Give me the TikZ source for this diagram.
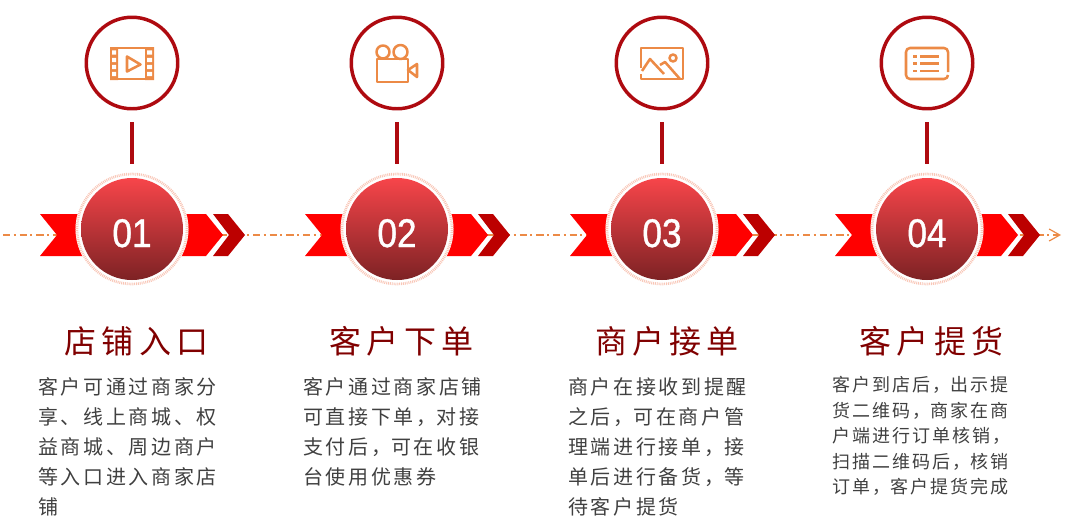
\documentclass[tikz,border=0pt]{standalone}
\usepackage{fontspec}
\usetikzlibrary{arrows.meta}
\newfontfamily\bodyfont{Noto Sans CJK SC}
\newfontfamily\numfont[FakeStretch=0.88,FakeBold=0.9]{Liberation Sans}
% even gap between CJK characters
\newlength{\cjkgap}
\newcount\cjkcode
\newXeTeXintercharclass\cjkclass
\XeTeXinterchartokenstate=1
\cjkcode="4E00
\loop\ifnum\cjkcode<"A000
  \XeTeXcharclass\cjkcode=\cjkclass
  \advance\cjkcode by 1
\repeat
\XeTeXcharclass"3001=\cjkclass
\XeTeXcharclass"FF0C=\cjkclass
\XeTeXinterchartoks\cjkclass\cjkclass={\hskip\cjkgap}
\newcommand{\cm}{^^^^ff0c}
\definecolor{ribbonred}{HTML}{FF0000}
\definecolor{chevrondark}{HTML}{BC0000}
\definecolor{stemred}{HTML}{AE0A10}
\definecolor{iconorange}{HTML}{EC8A46}
\definecolor{titlered}{HTML}{800000}
\definecolor{bodygray}{HTML}{404040}
\definecolor{badgetop}{HTML}{F7454A}
\definecolor{badgebot}{HTML}{7D2224}
\definecolor{haloPink}{HTML}{F9C6B6}
\tikzset{
    ringicon/.style={circle,draw=stemred,line width=2.6pt,minimum size=91.5*0.75pt,inner sep=0pt},
    badge/.style={circle,minimum size=102*0.75pt,inner sep=0pt,top color=badgetop,bottom color=badgebot,text=white,font=\numfont\fontsize{30}{30}\selectfont},
    halo/.style={circle,draw=haloPink,dash pattern=on 0.7pt off 0.7pt,line width=2pt,minimum size=110*0.75pt,inner sep=0pt},
    stem/.style={draw=stemred,line width=3pt},
    glyph/.style={draw=iconorange,line width=1.9pt,line join=round},
    steptitle/.style={text=titlered,font=\setlength{\cjkgap}{3.9pt}\bodyfont\fontsize{24}{24}\selectfont},
    stepbody/.style={text=bodygray,align=left,anchor=north west,inner sep=0pt,font=\setlength{\cjkgap}{2pt}\bodyfont\fontsize{15}{22.5}\selectfont},
    stepsmall/.style={stepbody,font=\setlength{\cjkgap}{1.5pt}\bodyfont\fontsize{13.5}{19.2}\selectfont},
}
\begin{document}
\begin{tikzpicture}[x=0.75pt,y=-0.75pt]
    \useasboundingbox (0,0) rectangle (1080,529);

    % axis
    \coordinate (axisstart) at (3,235);
    \coordinate (axisend) at (1061,235);
    \draw[draw=iconorange,line width=0.9pt,dash pattern=on 5.5pt off 2.5pt on 1.5pt off 3pt,-{Straight Barb[length=8pt,width=9pt]}] (axisstart) -- (axisend);

    % steps
    \foreach \n/\cx in {1/132,2/397,3/662,4/927}{
        % ribbon
        \fill[ribbonred] (\cx-92,214) -- (\cx-30,214) -- (\cx-30,256) -- (\cx-92,256) -- (\cx-75,235) -- cycle;
        \fill[ribbonred] (\cx+30,214) -- (\cx+74,214) -- (\cx+91,235) -- (\cx+74,256) -- (\cx+30,256) -- cycle;
        \fill[chevrondark] (\cx+81,214) -- (\cx+96,214) -- (\cx+113,235) -- (\cx+96,256) -- (\cx+81,256) -- (\cx+97,235) -- cycle;
        % badge and top ring
        \fill[white] (\cx,229) circle (56.5);
        \node[halo] (halo\n) at (\cx,229) {};
        \node[badge] (badge\n) at (\cx,229) {\raisebox{-3pt}[21pt][0pt]{0\n}};
        \node[ringicon] (ring\n) at (\cx,63) {};
        \coordinate (stemtop\n) at (\cx,122);
        \coordinate (stembot\n) at (\cx,164);
        \draw[stem] (stemtop\n) -- (stembot\n);
    }

    % film
    \begin{scope}[shift={(132,63)}]
        \fill[iconorange] (-22,-16) rectangle (-14,17) (13,-16) rectangle (22,17);
        \draw[glyph] (-21,-15) rectangle (21,16);
        \foreach \yy in {-10.5,-3,4,11}{
            \fill[white] (-20,\yy-2.2) rectangle (-16,\yy+2.2) (15,\yy-2.2) rectangle (20,\yy+2.2);
        }
        \draw[glyph] (-5,-6.5) -- (8.5,1.5) -- (-5,8.5) -- cycle;
    \end{scope}

    % camera
    \begin{scope}[shift={(397,63)}]
        \draw[glyph] (-20,-4) -- (-20,19) -- (11,19) -- (11,-4) -- cycle;
        \draw[glyph] (-14,-11) circle (6.5);
        \draw[glyph] (3.5,-11) circle (7);
        \draw[glyph] (11,7) -- (20,1) -- (20,14) -- cycle;
    \end{scope}

    % picture
    \begin{scope}[shift={(662,63)}]
        \draw[glyph] (-21,5) -- (-21,-15) -- (21,-15) -- (21,16) -- (-21,16) -- (-21,11);
        \draw[glyph] (-20,8) -- (-12,-4) -- (2,11);
        \draw[glyph] (-2,2) -- (3,-1) -- (18,16);
        \draw[glyph] (11,-5) circle (3.5);
    \end{scope}

    % list
    \begin{scope}[shift={(927,63)}]
        \draw[glyph,rounded corners=3pt] (21,9) -- (21,-15) -- (-21,-15) -- (-21,16) -- (21,16) -- (21,12);
        \foreach \yy in {-6.5,0.5,8}{
            \draw[glyph] (-14,\yy) -- (-10,\yy) (-7,\yy) -- (12,\yy);
        }
    \end{scope}

    % titles
    \node[steptitle] (title1) at (136.5,341) {店铺入口};
    \node[steptitle] (title2) at (401.5,341) {客户下单};
    \node[steptitle] (title3) at (667,341) {商户接单};
    \node[steptitle] (title4) at (931.5,341) {客户提货};

    % descriptions
    \node[stepbody] (body1) at (38,377) {客户可通过商家分\\享、线上商城、权\\益商城、周边商户\\等入口进入商家店\\铺};
    \node[stepbody] (body2) at (303,377) {客户通过商家店铺\\可直接下单\cm{}对接\\支付后\cm{}可在收银\\台使用优惠券};
    \node[stepbody] (body3) at (568,377) {商户在接收到提醒\\之后\cm{}可在商户管\\理端进行接单\cm{}接\\单后进行备货\cm{}等\\待客户提货};
    \node[stepsmall] (body4) at (832,376) {客户到店后\cm{}出示提\\货二维码\cm{}商家在商\\户端进行订单核销\cm\\扫描二维码后\cm{}核销\\订单\cm{}客户提货完成};
\end{tikzpicture}
\end{document}
